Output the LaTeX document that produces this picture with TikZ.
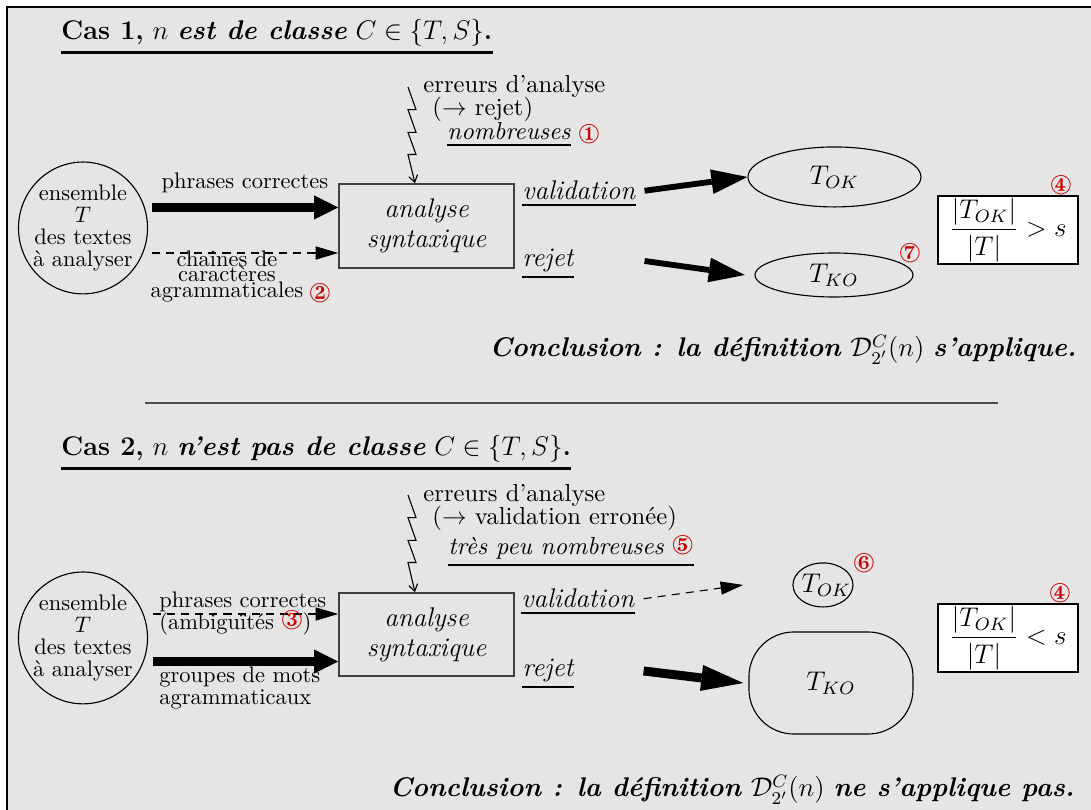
\documentclass[tikz,border=0pt]{standalone}
\usepackage{fontspec}
\usepackage{amsmath}
\usepackage{pifont}
\usetikzlibrary{arrows.meta, positioning, shapes.geometric}
\definecolor{numred}{RGB}{204, 0, 0}
\definecolor{bgray}{RGB}{229, 229, 229}
\newcommand{\circnum}[1]{\textcolor{numred}{\fontsize{12}{12}\selectfont\ding{#1}}}

\begin{document}
\begin{tikzpicture}[
    txt/.style={inner sep=0pt, anchor=base west},
    num/.style={inner sep=0pt},
    errtxt/.style={font=\fontsize{10.95}{13}\selectfont},
    outtxt/.style={font=\large\itshape},
    uline/.style={line width=0.9pt},
    fat/.style={line width=4.2pt, -{Triangle[length=10.7pt, width=10.7pt, line width=0pt]}},
    slant/.style={line width=2.6pt, -{Triangle[length=16pt, width=11pt, line width=0pt]}},
    heavy/.style={line width=4pt, -{Triangle[length=18.7pt, width=11.6pt, line width=0pt]}},
    dasharrow/.style={line width=0.5pt, dash pattern=on 3.6pt off 2.7pt, -{Triangle[length=10pt, width=5.8pt]}},
    zig/.style={line width=0.5pt, -{Straight Barb[length=3pt, width=4pt]}},
    cloud/.style={draw, ellipse, inner sep=0pt, line width=0.5pt},
    proc/.style={draw=black!75, line width=0.7pt, minimum width=2.734cm, align=center, font=\fontsize{12}{13.3}\selectfont\itshape},
    ratio/.style={draw, fill=white, line width=1pt, inner sep=1pt, minimum width=2.19cm, minimum height=1.03cm, font=\large}
  ]
  % frame
  \useasboundingbox (0,0) rectangle (17.047,12.656);
  \fill[bgray] (0.109,0) rectangle (17.047,12.547);
  \draw[line width=0.9pt] (0.109,0) -- (0.109,12.547) -- (17.047,12.547);

  % ---------- case 1
  \node[txt, font=\large] (tit1) at (0.953,12.031) {\textbf{Cas 1,} $n$ \textbf{\textit{est de classe}} $C\in\{T,S\}$\textbf{.}};
  \draw[line width=1.1pt] ([yshift=-2.3pt]tit1.south west) -- ([yshift=-2.3pt]tit1.south east);
  % texts
  \node[cloud, minimum width=2.016cm, minimum height=2.06cm] (ens1) at (1.297,9.094) {};
  \node[align=center, font=\fontsize{10}{9.8}\selectfont] (ens1t) at (ens1) {ensemble\\$T$\\des textes\\à analyser};
  % parser
  \node[proc, minimum height=1.3125cm] (ana1) at (6.664,9.125) {analyse\\syntaxique};
  \coordinate (o1) at ([xshift=0.055cm]ens1.east);
  \coordinate (in1a) at ([yshift=0.289cm]ana1.west);
  \coordinate (in1b) at ([yshift=-0.422cm]ana1.west);
  \draw[fat] (o1 |- in1a) -- (in1a) node[midway, above=4.5pt, inner sep=0pt] (phr1) {phrases correctes};
  \draw[dasharrow] (o1 |- in1b) -- (in1b);
  \node[txt, anchor=base] (cha1) at (3.547,8.484) {chaînes de};
  \node[txt, anchor=base] (car1) at (3.547,8.25) {caractères};
  \node[txt, anchor=base] (agr1) at (3.547,8.0) {agrammaticales};
  \node[num] (n2) at (5.0,8.07) {\circnum{173}};
  % parse errors
  \coordinate (z1) at (6.375,11.297);
  \draw[zig] (z1) -- ++(0.125,-0.355) -- ++(-0.125,0) -- ++(0.125,-0.355) -- ++(-0.125,0)
    -- ++(0.125,-0.345) -- ++(-0.125,0) -- ([xshift=-0.18cm]ana1.north);
  \node[txt, errtxt] (err1) at (6.609,11.203) {erreurs d'analyse};
  \node[txt, errtxt] (eff1) at (6.75,10.844) {($\rightarrow$ rejet)};
  \node[txt, errtxt] (nbr1) at (6.984,10.469) {\textit{nombreuses}};
  \draw[uline] ([yshift=-2pt]nbr1.south west) -- ([yshift=-2pt]nbr1.south east);
  \node[num] (n1) at (9.203,10.5625) {\circnum{172}};
  % outputs
  \node[txt, outtxt] (val1) at (8.156,9.531) {validation};
  \draw[uline] ([yshift=-2pt]val1.south west) -- ([yshift=-2pt]val1.south east);
  \node[txt, outtxt] (rjt1) at (8.156,8.484) {rejet};
  \draw[uline] ([yshift=-2pt]rjt1.south west) -- ([yshift=-2pt]rjt1.south east);
  \node[cloud, minimum width=2.703cm, minimum height=0.9375cm, font=\large] (tok1) at (13.039,9.891) {$T_{OK}$};
  \node[cloud, minimum width=2.469cm, minimum height=0.6875cm, font=\large] (tko1) at (13.031,8.359) {$T_{KO}$};
  \coordinate (v1) at ([xshift=0.14cm]val1.east);
  \draw[slant] (v1) -- (tok1.west);
  \draw[slant] (v1 |- rjt1.east) -- ([xshift=-0.15cm]tko1.west);
  \node[num] (n7) at (14.219,8.703) {\circnum{178}};
  \node[ratio] (rat1) at (15.75,9.0625) {$\dfrac{|T_{OK}|}{|T|} > s$};
  \node[num] (n4a) at (16.578,9.766) {\circnum{175}};
  \node[txt, anchor=base east, font=\large] (con1) at (16.828,7.078)
    {\textbf{\textit{Conclusion : la définition}} $\mathcal{D}^{C}_{2'}(n)$ \textbf{\textit{s'applique.}}};

  % separator
  \draw[black!70, line width=0.6pt] (2.266,6.359) -- (15.594,6.359);

  % ---------- case 2
  \node[txt, font=\large] (tit2) at (0.953,5.531) {\textbf{Cas 2,} $n$ \textbf{\textit{n'est pas de classe}} $C\in\{T,S\}$\textbf{.}};
  \draw[line width=1.1pt] ([yshift=-2.3pt]tit2.south west) -- ([yshift=-2.3pt]tit2.south east);
  % texts
  \node[cloud, minimum width=2.016cm, minimum height=2.06cm] (ens2) at (1.297,2.688) {};
  \node[align=center, font=\fontsize{10}{9.8}\selectfont] (ens2t) at (ens2) {ensemble\\$T$\\des textes\\à analyser};
  % parser
  \node[proc, minimum height=1.297cm] (ana2) at (6.664,2.742) {analyse\\syntaxique};
  \coordinate (o2) at ([xshift=0.07cm]ens2.east);
  \coordinate (in2a) at ([yshift=0.32cm]ana2.west);
  \coordinate (in2b) at ([yshift=-0.422cm]ana2.west);
  \draw[dasharrow] (o2 |- in2a) -- (in2a);
  \draw[fat] (o2 |- in2b) -- (in2b);
  \node[txt] (phr2) at (2.484,3.156) {phrases correctes};
  \node[txt] (amb2) at (2.484,2.8125) {(ambiguïtés \circnum{174})};
  \node[txt] (grp2) at (2.484,1.984) {groupes de mots};
  \node[txt] (agr2) at (2.484,1.641) {agrammaticaux};
  % parse errors
  \coordinate (z2) at (6.375,4.922);
  \draw[zig] (z2) -- ++(0.125,-0.355) -- ++(-0.125,0) -- ++(0.125,-0.355) -- ++(-0.125,0)
    -- ++(0.125,-0.345) -- ++(-0.125,0) -- ([xshift=-0.18cm]ana2.north);
  \node[txt, errtxt] (err2) at (6.609,4.8125) {erreurs d'analyse};
  \node[txt, errtxt] (eff2) at (6.75,4.453) {($\rightarrow$ validation erronée)};
  \node[txt, errtxt] (nbr2) at (7.0,3.984) {\textit{très peu nombreuses} \circnum{176}};
  \draw[uline] ([yshift=-2pt]nbr2.south west) -- ([yshift=-2pt]nbr2.south east);
  % outputs
  \node[txt, outtxt] (val2) at (8.141,3.156) {validation};
  \draw[uline] ([yshift=-2pt]val2.south west) -- ([yshift=-2pt]val2.south east);
  \node[txt, outtxt] (rjt2) at (8.156,2.078) {rejet};
  \draw[uline] ([yshift=-2pt]rjt2.south west) -- ([yshift=-2pt]rjt2.south east);
  \node[cloud, minimum width=0.9375cm, minimum height=0.6875cm] (tok2) at (12.859,3.516) {};
  \node[font=\large, inner sep=0pt] (tok2t) at ([xshift=0.05cm]tok2) {$T_{OK}$};
  \node[draw, rounded corners=0.7cm, line width=0.5pt, minimum width=2.5625cm, minimum height=1.594cm, font=\large] (tko2) at (12.984,1.984) {$T_{KO}$};
  \coordinate (v2) at ([xshift=0.14cm]val2.east);
  \draw[dasharrow] (v2) -- ([xshift=-0.77cm]tok2.west);
  \draw[heavy] (v2 |- rjt2.east) -- ([xshift=-0.08cm]tko2.west);
  \node[num] (n6) at (13.5,3.859) {\circnum{177}};
  \node[ratio] (rat2) at (15.75,2.6875) {$\dfrac{|T_{OK}|}{|T|} < s$};
  \node[num] (n4b) at (16.5625,3.391) {\circnum{175}};
  \node[txt, anchor=base east, font=\large] (con2) at (16.797,0.203)
    {\textbf{\textit{Conclusion : la définition}} $\mathcal{D}^{C}_{2'}(n)$ \textbf{\textit{ne s'applique pas.}}};
\end{tikzpicture}
\end{document}
